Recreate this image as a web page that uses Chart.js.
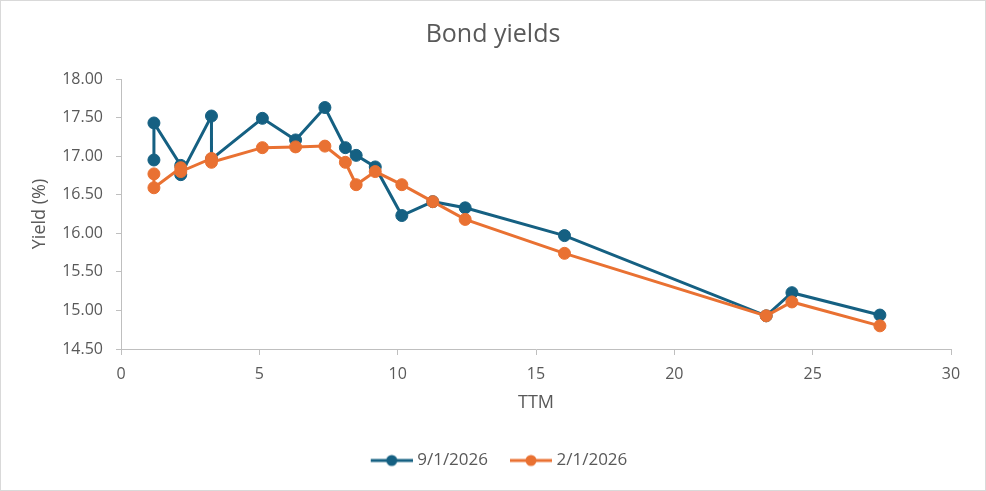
<!DOCTYPE html>
<html lang="en">
<head>
    <meta charset="UTF-8">
    <title>Bond yields</title>
    <script src="https://cdn.jsdelivr.net/npm/chart.js"></script>
    <style>
        body {
            margin: 0;
            background: #ffffff;
        }
        .chart-box {
            width: 986px;
            height: 491px;
            box-sizing: border-box;
            border: 1px solid #d9d9d9;
            background: #ffffff;
        }
        canvas {
            display: block;
        }
    </style>
</head>
<body>

    <div class="chart-box">
        <canvas id="yieldChart" width="984" height="489"></canvas>
    </div>

    <script>
        // Time to maturity (years) of each bond
        const ttm = [1.19, 1.19, 2.16, 2.16, 3.27, 3.27, 5.11, 6.31, 7.37, 8.11, 8.50, 9.19, 10.15, 11.27, 12.44, 16.03, 23.32, 24.25, 27.43];

        // Yields (%) on the two dates
        const yieldsSep = [16.95, 17.43, 16.88, 16.76, 17.52, 16.96, 17.49, 17.21, 17.63, 17.11, 17.01, 16.86, 16.23, 16.41, 16.33, 15.97, 14.93, 15.23, 14.94];
        const yieldsFeb = [16.77, 16.59, 16.85, 16.80, 16.97, 16.92, 17.11, 17.12, 17.13, 16.92, 16.63, 16.80, 16.63, 16.41, 16.18, 15.74, 14.93, 15.11, 14.80];

        const seriesNames = ["9/1/2026", "2/1/2026"];
        const seriesColors = ["#156082", "#E97132"];

        // Axis range
        const xTicks = { min: 0, max: 30, step: 5 };
        const yTicks = { min: 14.5, max: 18, step: 0.5 };

        const textColor = "#595959";
        const axisColor = "#bfbfbf";

        Chart.defaults.font.family = "'Open Sans', sans-serif";
        Chart.defaults.color = textColor;

        function toPoints(values) {
            return ttm.map((x, i) => ({ x: x, y: values[i] }));
        }

        // small line-with-dot image for the legend, like Excel's marker
        function legendMarker(color) {
            const c = document.createElement("canvas");
            c.width = 58;
            c.height = 14;
            const g = c.getContext("2d");
            g.strokeStyle = color;
            g.lineWidth = 3;
            g.beginPath();
            g.moveTo(16, 7);
            g.lineTo(58, 7);
            g.stroke();
            g.fillStyle = color;
            g.beginPath();
            g.arc(37, 7, 5.5, 0, Math.PI * 2);
            g.fill();
            return c;
        }

        const ctx = document.getElementById("yieldChart").getContext("2d");
        new Chart(ctx, {
            type: "scatter",
            data: {
                datasets: [
                    {
                        label: seriesNames[0],
                        data: toPoints(yieldsSep),
                        showLine: true,
                        borderColor: seriesColors[0],
                        backgroundColor: seriesColors[0],
                        borderWidth: 3,
                        pointRadius: 6,
                        pointBorderWidth: 1,
                        order: 2
                    },
                    {
                        label: seriesNames[1],
                        data: toPoints(yieldsFeb),
                        showLine: true,
                        borderColor: seriesColors[1],
                        backgroundColor: seriesColors[1],
                        borderWidth: 3,
                        pointRadius: 6,
                        pointBorderWidth: 1,
                        order: 1
                    }
                ]
            },
            options: {
                responsive: false,
                animation: false,
                layout: {
                    padding: { top: 0, right: 0, bottom: 11, left: 0 }
                },
                plugins: {
                    title: {
                        display: true,
                        text: "Bond yields",
                        color: textColor,
                        font: { size: 25, weight: "normal" },
                        padding: { top: 19, bottom: 29 }
                    },
                    legend: {
                        position: "bottom",
                        labels: {
                            usePointStyle: true,
                            pointStyleWidth: 50,
                            padding: 10,
                            font: { size: 17 },
                            color: textColor,
                            generateLabels: function (chart) {
                                return chart.data.datasets.map(function (ds, i) {
                                    return {
                                        text: ds.label,
                                        fillStyle: ds.borderColor,
                                        strokeStyle: ds.borderColor,
                                        fontColor: textColor,
                                        lineWidth: 0,
                                        pointStyle: legendMarker(ds.borderColor),
                                        hidden: false,
                                        datasetIndex: i
                                    };
                                });
                            }
                        }
                    },
                    tooltip: { enabled: false }
                },
                scales: {
                    x: {
                        type: "linear",
                        min: xTicks.min,
                        max: xTicks.max,
                        ticks: {
                            stepSize: xTicks.step,
                            font: { size: 16 },
                            color: textColor,
                            padding: 10
                        },
                        grid: {
                            drawOnChartArea: false,
                            tickLength: 6,
                            color: axisColor
                        },
                        border: { color: axisColor, width: 1 },
                        title: {
                            display: true,
                            text: "TTM",
                            color: textColor,
                            font: { size: 18 },
                            padding: { top: 0, bottom: 28 }
                        },
                        afterFit: function (scale) {
                            scale.height = 93;
                        }
                    },
                    y: {
                        min: yTicks.min,
                        max: yTicks.max,
                        ticks: {
                            stepSize: yTicks.step,
                            font: { size: 16 },
                            color: textColor,
                            padding: 13,
                            callback: function (v) {
                                return v.toFixed(2);
                            }
                        },
                        grid: {
                            drawOnChartArea: false,
                            tickLength: 5,
                            color: axisColor
                        },
                        border: { color: axisColor, width: 1 },
                        title: {
                            display: true,
                            text: "Yield (%)",
                            color: textColor,
                            font: { size: 18 },
                            padding: { top: 28, bottom: 0 }
                        },
                        afterFit: function (scale) {
                            scale.width = 120;
                        }
                    },
                    // empty right-hand gutter so title and legend stay centred on the whole chart
                    gutter: {
                        type: "linear",
                        position: "right",
                        ticks: { display: false },
                        grid: { display: false },
                        border: { display: false },
                        afterFit: function (scale) {
                            scale.width = 34;
                        }
                    }
                }
            }
        });
    </script>

</body>
</html>
